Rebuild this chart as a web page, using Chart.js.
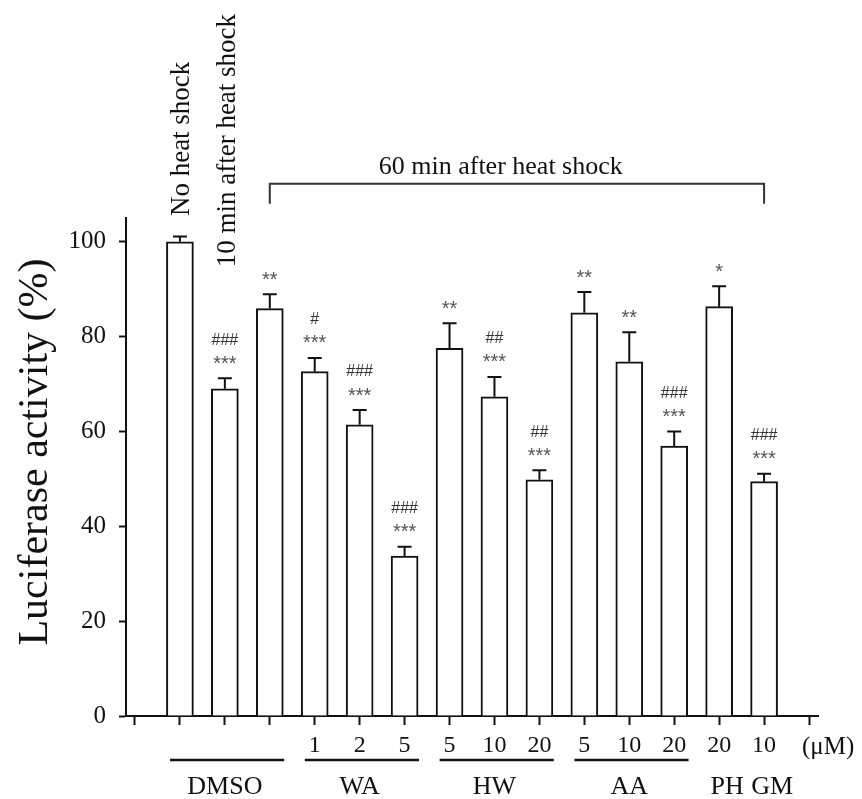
<!DOCTYPE html>
<html><head><meta charset="utf-8">
<script src="https://cdn.jsdelivr.net/npm/chart.js@4.4.1/dist/chart.umd.min.js"></script>
<style>html,body{margin:0;padding:0;background:#fff}#wrap{width:862px;height:799px}</style>
</head><body><div id="wrap"><canvas id="c" width="862" height="799"></canvas></div>
<script>
// ---- data ----
const categories = ['No heat shock','10 min after heat shock','DMSO 60 min','WA 1','WA 2','WA 5','HW 5','HW 10','HW 20','AA 5','AA 10','AA 20','PH 20','GM 10'];
const values = [100, 69.0, 85.9, 72.6, 61.4, 33.7, 77.5, 67.3, 49.8, 85.0, 74.7, 56.9, 86.3, 49.4];
const errors = [1.1, 2.2, 3.0, 2.9, 3.1, 2.0, 5.3, 4.2, 2.0, 4.4, 6.2, 3.1, 4.3, 1.7];
const starMarks = ['', '***', '**', '***', '***', '***', '**', '***', '***', '**', '**', '***', '*', '***'];
const hashMarks = ['', '###', '', '#', '###', '###', '', '##', '##', '', '', '###', '', '###'];
const doseLabels = ['', '', '', '', '1', '2', '5', '5', '10', '20', '5', '10', '20', '20', '10', ''];
const unitLabel = '(\u03bcM)';
const groupNames = ['DMSO', 'WA', 'HW', 'AA', 'PH', 'GM'];
const groupStart = [1, 4, 7, 10, 13, 14];
const groupEnd = [3, 6, 9, 12, 13, 14];
const topLabels = ['No heat shock', '10 min after heat shock'];
const bracketLabel = '60 min after heat shock';
const yTitle = 'Luciferase activity (%)';
const yTicks = [0, 20, 40, 60, 80, 100];

const SERIF = '"Liberation Serif", "Times New Roman", serif';
const SANS = '"Liberation Sans", Arial, sans-serif';
const INK = '#111';

const positions = categories.map((c, i) => i + 1);
const barData = values.map((v, i) => ({x: positions[i], y: v}));

const extras = {
  id: 'extras',
  afterDatasetsDraw(chart) {
    const ctx = chart.ctx;
    const xs = chart.scales.x, ys = chart.scales.y;
    const meta = chart.getDatasetMeta(0);
    ctx.save();
    // error bars
    ctx.strokeStyle = INK; ctx.lineWidth = 2;
    meta.data.forEach((el, i) => {
      const yt = ys.getPixelForValue(values[i] + errors[i]);
      ctx.beginPath();
      ctx.moveTo(el.x, el.y); ctx.lineTo(el.x, yt);
      ctx.moveTo(el.x - 7, yt); ctx.lineTo(el.x + 7, yt);
      ctx.stroke();
      // significance marks
      ctx.textAlign = 'center';
      ctx.textBaseline = 'middle';
      if (starMarks[i]) {
        ctx.fillStyle = '#555';
        ctx.font = '20px ' + SANS;
        ctx.fillText(starMarks[i], el.x, yt - 14);
      }
      if (hashMarks[i]) {
        ctx.fillStyle = '#333';
        ctx.font = '16px ' + SANS;
        ctx.fillText(hashMarks[i], el.x, yt - 38);
      }
    });
    // rotated labels above first two bars
    ctx.fillStyle = INK;
    ctx.font = '27px ' + SERIF;
    const topBase = [105.4, 94.6];
    topLabels.forEach((t, i) => {
      const x = meta.data[i].x + 2 + i;
      const y = ys.getPixelForValue(topBase[i]);
      ctx.save();
      ctx.translate(x, y);
      ctx.rotate(-Math.PI / 2);
      ctx.textAlign = 'left'; ctx.textBaseline = 'middle';
      ctx.fillText(t, 0, 0);
      ctx.restore();
    });
    // bracket
    const bx1 = xs.getPixelForValue(3), bx2 = xs.getPixelForValue(14);
    const byTop = ys.getPixelForValue(112.2), byBot = ys.getPixelForValue(108.0);
    ctx.strokeStyle = '#333'; ctx.lineWidth = 2;
    ctx.beginPath();
    ctx.moveTo(bx1, byBot); ctx.lineTo(bx1, byTop); ctx.lineTo(bx2, byTop); ctx.lineTo(bx2, byBot);
    ctx.stroke();
    ctx.font = '26px ' + SERIF;
    ctx.textAlign = 'center'; ctx.textBaseline = 'alphabetic';
    ctx.fillText(bracketLabel, xs.getPixelForValue(8.14), ys.getPixelForValue(114.2));
    // group underlines and labels
    const ulY = chart.chartArea.bottom + 44;
    const glY = chart.chartArea.bottom + 71;
    ctx.strokeStyle = INK; ctx.lineWidth = 2.5;
    ctx.font = '26px ' + SERIF;
    ctx.textAlign = 'center'; ctx.textBaseline = 'middle';
    groupNames.forEach((g, i) => {
      let cx = (xs.getPixelForValue(groupStart[i]) + xs.getPixelForValue(groupEnd[i])) / 2;
      if (groupEnd[i] > groupStart[i]) {
        ctx.beginPath();
        ctx.moveTo(xs.getPixelForValue(groupStart[i] - 0.22), ulY);
        ctx.lineTo(xs.getPixelForValue(groupEnd[i] + 0.32), ulY);
        ctx.stroke();
      } else {
        cx += 8;
      }
      ctx.fillText(g, cx, glY);
    });
    // unit label
    ctx.font = '25px ' + SERIF;
    ctx.textAlign = 'left';
    ctx.fillText(unitLabel, xs.getPixelForValue(15) - 7, chart.chartArea.bottom + 31);
    // y title
    ctx.font = '42px ' + SERIF;
    ctx.translate(36, 452);
    ctx.rotate(-Math.PI / 2);
    ctx.textAlign = 'center'; ctx.textBaseline = 'middle';
    ctx.fillText(yTitle, 0, 0);
    ctx.restore();
  }
};

new Chart(document.getElementById('c'), {
  type: 'bar',
  data: {
    datasets: [{
      data: barData,
      backgroundColor: '#fff',
      borderColor: INK,
      borderWidth: 2,
      borderSkipped: 'bottom',
      barThickness: 27
    }]
  },
  options: {
    responsive: false,
    animation: false,
    devicePixelRatio: 1,
    layout: {padding: {top: 218, right: 44, left: 0, bottom: 0}},
    plugins: {legend: {display: false}, tooltip: {enabled: false}},
    scales: {
      x: {
        type: 'linear',
        offset: false,
        min: -0.2, max: 15.2,
        afterBuildTicks: s => { s.ticks = positions.concat([0, 15]).sort((a, b) => a - b).map(v => ({value: v})); },
        afterFit: s => { s.height = 83; },
        grid: {offset: false, drawOnChartArea: false, drawTicks: true, tickLength: 9, tickWidth: 2, tickColor: INK},
        border: {display: true, color: INK, width: 2},
        ticks: {
          autoSkip: false, maxRotation: 0, padding: 6,
          color: INK,
          font: {family: SERIF, size: 24},
          callback: v => doseLabels[v] || ''
        }
      },
      y: {
        min: 0, max: 105,
        afterBuildTicks: s => { s.ticks = yTicks.map(v => ({value: v})); },
        afterFit: s => { s.width = 126; },
        grid: {drawOnChartArea: false, drawTicks: true, tickLength: 7, tickWidth: 2, tickColor: INK},
        border: {display: true, color: INK, width: 2},
        ticks: {
          padding: 13,
          color: INK,
          font: {family: SERIF, size: 25}
        }
      }
    }
  },
  plugins: [extras]
});
</script>
</body></html>
